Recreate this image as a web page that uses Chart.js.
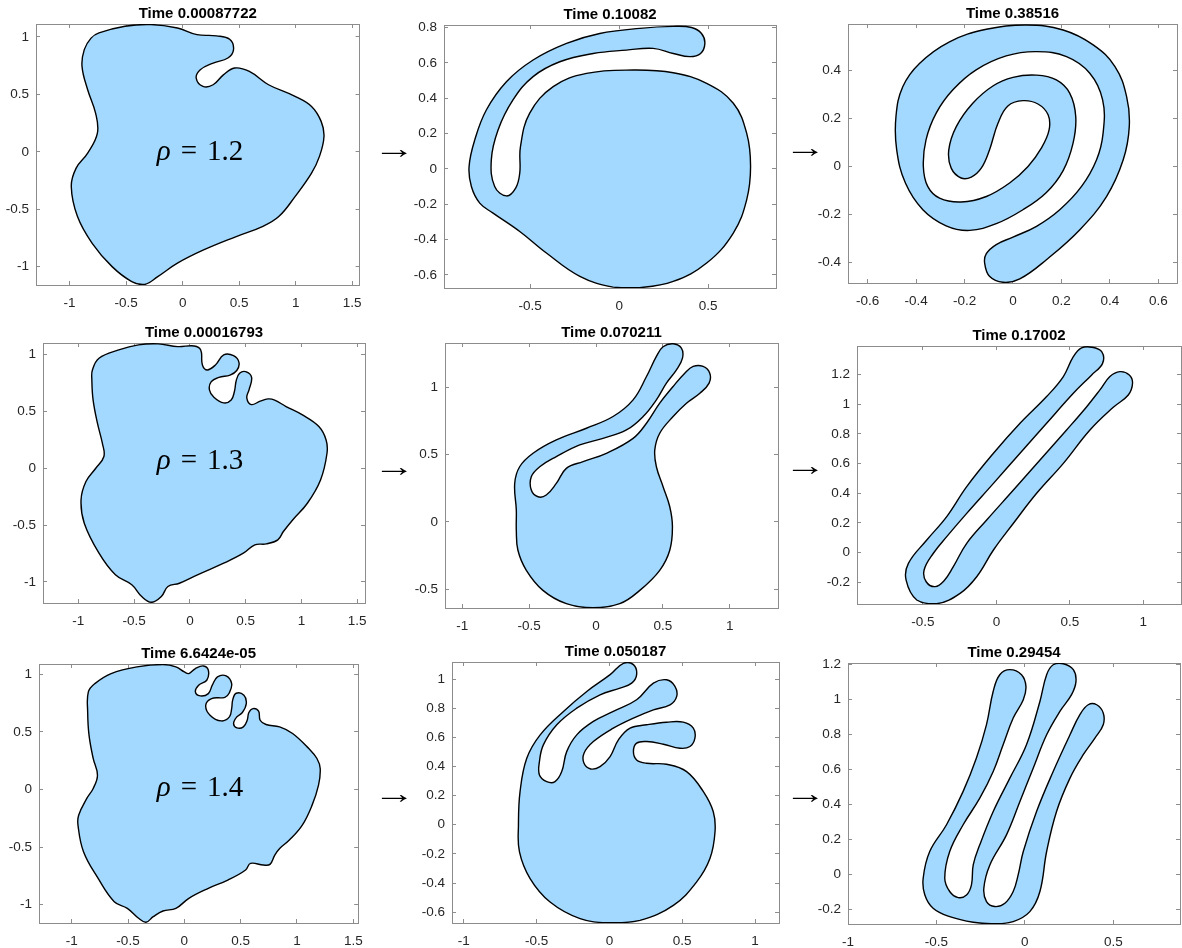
<!DOCTYPE html>
<html>
<head>
<meta charset="utf-8">
<script src="https://cdn.jsdelivr.net/npm/chart.js@4.4.1/dist/chart.umd.min.js"></script>
<style>
  html, body { margin: 0; padding: 0; background: #fff; overflow: hidden; }
  body { width: 1182px; height: 948px; position: relative; }
  canvas { position: absolute; z-index: 1; }
  .note { position: absolute; z-index: 2; color: #000; line-height: 1; white-space: nowrap;
          font-family: 'Liberation Serif', 'DejaVu Serif', serif; transform: translate(-50%, -50%); }
  .rho { font-size: 29px; }
  .rho .eq { margin: 0 10px; }
  .arrow { font-size: 28px; transform: translate(-50%, -50%) scaleX(1.5); }
</style>
</head>
<body>
<script>
// outlines of the blue region, [x, y] in axis units, traced round the curve
const outlineRho12 = [[-0.74,1.035],[-0.51,1.093],[-0.28,1.108],[-0.046,1.078],[0.127,1.02],[0.30,1.01],[0.416,0.98],[0.45,0.89],[0.40,0.817],[0.27,0.773],[0.156,0.715],[0.12,0.642],[0.18,0.57],[0.27,0.584],[0.36,0.67],[0.46,0.73],[0.59,0.70],[0.76,0.584],[0.994,0.483],[1.14,0.395],[1.225,0.265],[1.25,0.134],[1.21,-0.04],[1.14,-0.186],[0.994,-0.39],[0.85,-0.564],[0.705,-0.651],[0.474,-0.738],[0.185,-0.855],[-0.046,-0.97],[-0.22,-1.087],[-0.335,-1.155],[-0.45,-1.13],[-0.624,-1.0],[-0.80,-0.797],[-0.93,-0.564],[-0.985,-0.302],[-0.942,-0.142],[-0.84,-0.012],[-0.754,0.163],[-0.77,0.337],[-0.84,0.54],[-0.89,0.744],[-0.87,0.89],[-0.81,0.99]];
const armRho12 = [[-0.844,0.013],[-0.812,0.164],[-0.747,0.333],[-0.634,0.493],[-0.484,0.616],[-0.296,0.71],[-0.109,0.766],[0.116,0.795],[0.304,0.806],[0.407,0.80],[0.463,0.766],[0.482,0.71],[0.458,0.653],[0.398,0.635],[0.304,0.653],[0.191,0.682],[0.041,0.672],[-0.146,0.653],[-0.334,0.606],[-0.484,0.522],[-0.597,0.39],[-0.681,0.22],[-0.719,0.051],[-0.70,-0.10],[-0.634,-0.153],[-0.582,-0.109],[-0.559,-0.024],[-0.555,0.126],[-0.503,0.315],[-0.371,0.465],[-0.184,0.54],[0.079,0.559],[0.304,0.544],[0.492,0.484],[0.642,0.371],[0.717,0.202],[0.739,0.013],[0.717,-0.175],[0.642,-0.363],[0.492,-0.533],[0.304,-0.637],[0.116,-0.672],[-0.034,-0.669],[-0.221,-0.608],[-0.409,-0.476],[-0.559,-0.354],[-0.709,-0.25],[-0.784,-0.194],[-0.831,-0.10]];
const spiralRho12 = [[-0.117,-0.402],[-0.097,-0.457],[-0.041,-0.482],[0.028,-0.468],[0.138,-0.388],[0.276,-0.263],[0.386,-0.125],[0.455,0.028],[0.48,0.166],[0.469,0.291],[0.421,0.416],[0.331,0.506],[0.207,0.568],[0.055,0.589],[-0.11,0.571],[-0.262,0.519],[-0.386,0.429],[-0.455,0.332],[-0.483,0.208],[-0.48,0.069],[-0.444,-0.069],[-0.372,-0.18],[-0.276,-0.247],[-0.179,-0.266],[-0.069,-0.238],[0.041,-0.18],[0.138,-0.108],[0.207,-0.017],[0.248,0.097],[0.259,0.208],[0.234,0.305],[0.179,0.36],[0.097,0.38],[0.0,0.371],[-0.083,0.335],[-0.166,0.263],[-0.234,0.166],[-0.265,0.069],[-0.255,-0.007],[-0.214,-0.048],[-0.172,-0.044],[-0.131,-0.007],[-0.097,0.069],[-0.062,0.18],[-0.021,0.252],[0.041,0.274],[0.103,0.26],[0.145,0.215],[0.149,0.152],[0.117,0.076],[0.062,0.0],[-0.014,-0.069],[-0.11,-0.125],[-0.214,-0.148],[-0.303,-0.132],[-0.352,-0.083],[-0.37,0.0],[-0.359,0.111],[-0.317,0.222],[-0.248,0.319],[-0.152,0.402],[-0.028,0.46],[0.097,0.478],[0.221,0.457],[0.317,0.388],[0.37,0.277],[0.372,0.139],[0.345,0.028],[0.283,-0.083],[0.193,-0.18],[0.097,-0.249],[0.0,-0.294],[-0.069,-0.325],[-0.11,-0.363]];

const outlineRho13 = [[-0.874,0.865],[-0.815,0.968],[-0.638,1.041],[-0.462,1.085],[-0.285,1.094],[-0.109,1.07],[0.038,1.076],[0.097,1.041],[0.112,0.909],[0.156,0.865],[0.229,0.909],[0.303,0.997],[0.391,0.99],[0.44,0.93],[0.42,0.86],[0.36,0.82],[0.26,0.80],[0.19,0.76],[0.175,0.69],[0.215,0.625],[0.303,0.575],[0.37,0.60],[0.40,0.68],[0.415,0.77],[0.445,0.835],[0.50,0.85],[0.553,0.80],[0.53,0.69],[0.51,0.62],[0.55,0.56],[0.63,0.59],[0.70,0.61],[0.76,0.60],[0.862,0.543],[1.009,0.469],[1.156,0.367],[1.221,0.249],[1.229,0.132],[1.171,-0.103],[1.053,-0.308],[0.921,-0.455],[0.838,-0.557],[0.788,-0.63],[0.685,-0.666],[0.582,-0.674],[0.479,-0.748],[0.303,-0.836],[0.068,-0.938],[-0.094,-1.012],[-0.197,-1.041],[-0.256,-1.129],[-0.344,-1.18],[-0.432,-1.129],[-0.521,-1.026],[-0.668,-0.938],[-0.815,-0.748],[-0.947,-0.484],[-0.976,-0.279],[-0.932,-0.117],[-0.844,0.0],[-0.771,0.103],[-0.785,0.22],[-0.829,0.396],[-0.868,0.601],[-0.879,0.777]];
const forkRho13 = [[-0.596,0.087],[-0.608,0.285],[-0.571,0.409],[-0.471,0.509],[-0.297,0.608],[-0.072,0.695],[0.127,0.782],[0.277,0.906],[0.377,1.079],[0.451,1.228],[0.501,1.3],[0.576,1.322],[0.638,1.29],[0.646,1.216],[0.601,1.129],[0.526,1.03],[0.451,0.906],[0.352,0.782],[0.227,0.682],[0.052,0.62],[-0.122,0.571],[-0.297,0.484],[-0.421,0.409],[-0.484,0.335],[-0.484,0.236],[-0.434,0.186],[-0.372,0.199],[-0.297,0.285],[-0.222,0.397],[-0.097,0.447],[0.077,0.509],[0.277,0.62],[0.377,0.732],[0.476,0.881],[0.576,1.005],[0.663,1.104],[0.726,1.154],[0.80,1.154],[0.85,1.104],[0.845,1.03],[0.776,0.955],[0.676,0.881],[0.576,0.782],[0.476,0.658],[0.439,0.534],[0.451,0.409],[0.501,0.261],[0.551,0.112],[0.571,-0.037],[0.551,-0.211],[0.476,-0.36],[0.327,-0.509],[0.177,-0.608],[-0.022,-0.638],[-0.222,-0.608],[-0.397,-0.509],[-0.521,-0.36],[-0.584,-0.211],[-0.596,-0.062]];
const loopRho13 = [[0.649,1.385],[0.717,1.355],[0.723,1.276],[0.649,1.198],[0.524,1.074],[0.342,0.872],[0.161,0.67],[-0.02,0.467],[-0.202,0.265],[-0.338,0.108],[-0.429,-0.004],[-0.492,-0.117],[-0.478,-0.196],[-0.417,-0.229],[-0.356,-0.189],[-0.293,-0.094],[-0.202,0.063],[-0.066,0.22],[0.116,0.422],[0.297,0.625],[0.478,0.827],[0.615,0.984],[0.705,1.097],[0.773,1.187],[0.841,1.22],[0.905,1.198],[0.927,1.142],[0.898,1.063],[0.796,0.98],[0.637,0.827],[0.456,0.602],[0.274,0.4],[0.116,0.198],[-0.02,0.018],[-0.134,-0.162],[-0.247,-0.274],[-0.406,-0.344],[-0.542,-0.319],[-0.615,-0.184],[-0.599,-0.072],[-0.474,0.085],[-0.338,0.243],[-0.202,0.445],[-0.02,0.67],[0.161,0.872],[0.342,1.052],[0.456,1.187],[0.524,1.321],[0.58,1.38]];

const outlineRho14 = [[-0.852,0.847],[-0.794,0.919],[-0.65,1.006],[-0.42,1.064],[-0.19,1.084],[-0.075,1.064],[0.0,1.02],[0.04,1.006],[0.098,1.049],[0.17,1.072],[0.213,1.035],[0.199,0.948],[0.127,0.905],[0.098,0.847],[0.141,0.812],[0.213,0.832],[0.248,0.905],[0.294,0.977],[0.371,0.986],[0.42,0.919],[0.40,0.84],[0.36,0.80],[0.242,0.789],[0.19,0.731],[0.228,0.645],[0.328,0.595],[0.40,0.63],[0.42,0.702],[0.43,0.78],[0.46,0.835],[0.529,0.818],[0.55,0.746],[0.515,0.668],[0.466,0.63],[0.437,0.572],[0.466,0.535],[0.524,0.543],[0.558,0.601],[0.573,0.668],[0.61,0.702],[0.659,0.679],[0.673,0.601],[0.725,0.564],[0.846,0.543],[0.961,0.486],[1.105,0.355],[1.177,0.269],[1.206,0.182],[1.191,0.038],[1.134,-0.136],[1.047,-0.309],[0.932,-0.439],[0.846,-0.512],[0.803,-0.569],[0.76,-0.65],[0.702,-0.656],[0.587,-0.642],[0.544,-0.699],[0.386,-0.786],[0.213,-0.858],[0.04,-0.945],[-0.075,-1.032],[-0.19,-1.055],[-0.276,-1.104],[-0.34,-1.152],[-0.406,-1.118],[-0.506,-1.032],[-0.622,-0.974],[-0.765,-0.772],[-0.895,-0.54],[-0.944,-0.309],[-0.938,-0.223],[-0.866,-0.078],[-0.809,0.009],[-0.771,0.124],[-0.809,0.269],[-0.846,0.471],[-0.858,0.673]];
const armsRho14 = [[-0.624,-0.002],[-0.613,0.227],[-0.567,0.456],[-0.475,0.617],[-0.315,0.778],[-0.155,0.915],[0.005,1.03],[0.096,1.108],[0.165,1.099],[0.187,1.03],[0.153,0.972],[0.073,0.938],[-0.064,0.892],[-0.224,0.80],[-0.361,0.686],[-0.453,0.548],[-0.48,0.433],[-0.48,0.342],[-0.43,0.296],[-0.373,0.296],[-0.327,0.365],[-0.293,0.502],[-0.224,0.617],[-0.11,0.709],[0.027,0.778],[0.187,0.858],[0.302,0.972],[0.393,0.995],[0.45,0.95],[0.462,0.881],[0.416,0.823],[0.302,0.789],[0.165,0.732],[0.027,0.663],[-0.11,0.571],[-0.174,0.491],[-0.174,0.422],[-0.128,0.383],[-0.064,0.399],[0.005,0.468],[0.062,0.583],[0.142,0.663],[0.256,0.686],[0.393,0.704],[0.507,0.704],[0.576,0.663],[0.587,0.594],[0.553,0.537],[0.485,0.525],[0.37,0.553],[0.256,0.571],[0.187,0.56],[0.165,0.502],[0.187,0.445],[0.256,0.422],[0.393,0.415],[0.53,0.365],[0.645,0.227],[0.713,0.089],[0.725,-0.048],[0.69,-0.232],[0.599,-0.392],[0.439,-0.553],[0.21,-0.656],[0.005,-0.672],[-0.201,-0.644],[-0.407,-0.53],[-0.544,-0.369],[-0.617,-0.186]];
const fingersRho14 = [[-0.575,-0.022],[-0.538,0.131],[-0.443,0.284],[-0.349,0.475],[-0.274,0.666],[-0.217,0.857],[-0.179,1.048],[-0.142,1.143],[-0.085,1.172],[-0.019,1.143],[0.006,1.076],[-0.009,1.0],[-0.066,0.895],[-0.123,0.742],[-0.179,0.589],[-0.255,0.436],[-0.349,0.284],[-0.425,0.131],[-0.453,-0.022],[-0.425,-0.098],[-0.377,-0.133],[-0.33,-0.118],[-0.302,-0.06],[-0.292,0.054],[-0.255,0.169],[-0.179,0.36],[-0.085,0.551],[0.009,0.742],[0.085,0.99],[0.123,1.143],[0.16,1.2],[0.217,1.206],[0.274,1.172],[0.289,1.105],[0.264,1.029],[0.198,0.933],[0.123,0.799],[0.047,0.608],[-0.028,0.417],[-0.104,0.226],[-0.198,0.054],[-0.232,-0.079],[-0.217,-0.156],[-0.17,-0.184],[-0.113,-0.165],[-0.066,-0.098],[-0.038,-0.003],[-0.009,0.131],[0.066,0.36],[0.16,0.589],[0.255,0.799],[0.311,0.914],[0.358,0.971],[0.406,0.971],[0.443,0.924],[0.443,0.857],[0.396,0.78],[0.33,0.685],[0.255,0.551],[0.179,0.36],[0.123,0.131],[0.085,-0.098],[0.028,-0.213],[-0.066,-0.27],[-0.179,-0.282],[-0.292,-0.274],[-0.425,-0.242],[-0.519,-0.194],[-0.566,-0.117]];

const outlines = [outlineRho12, armRho12, spiralRho12, outlineRho13, forkRho13, loopRho13, outlineRho14, armsRho14, fingersRho14];
const titles = ['Time 0.00087722', 'Time 0.10082', 'Time 0.38516', 'Time 0.00016793', 'Time 0.070211', 'Time 0.17002', 'Time 6.6424e-05', 'Time 0.050187', 'Time 0.29454'];

const xLimits = [[-1.297, 1.565], [-0.985, 0.882], [-0.681, 0.677], [-1.317, 1.57], [-1.129, 1.36], [-0.949, 1.257], [-1.29, 1.543], [-1.08, 1.164], [-1.0, 0.877]];
const yLimits = [[-1.16, 1.113], [-0.674, 0.814], [-0.485, 0.593], [-1.186, 1.102], [-0.64, 1.328], [-0.346, 1.393], [-1.159, 1.089], [-0.674, 1.117], [-0.284, 1.21]];

const ticksWideX = [-1, -0.5, 0, 0.5, 1, 1.5];
const ticksWideY = [-1, -0.5, 0, 0.5, 1];
const xTicks = [ticksWideX, [-0.5, 0, 0.5], [-0.6, -0.4, -0.2, 0, 0.2, 0.4, 0.6], ticksWideX, [-1, -0.5, 0, 0.5, 1], [-0.5, 0, 0.5, 1], ticksWideX, [-1, -0.5, 0, 0.5, 1], [-1, -0.5, 0, 0.5]];
const yTicks = [ticksWideY, [-0.6, -0.4, -0.2, 0, 0.2, 0.4, 0.6, 0.8], [-0.4, -0.2, 0, 0.2, 0.4], ticksWideY, [-0.5, 0, 0.5, 1], [-0.2, 0, 0.2, 0.4, 0.6, 0.8, 1, 1.2], ticksWideY, [-0.6, -0.4, -0.2, 0, 0.2, 0.4, 0.6, 0.8, 1], [-0.2, 0, 0.2, 0.4, 0.6, 0.8, 1, 1.2]];

const rhoValues = ['1.2', '1.3', '1.4'];

// page layout: axes box [left, top, right, bottom] of each panel, in px
const axesBoxes = [
  [36, 24, 366, 285], [444, 25, 776, 288], [848, 24, 1177, 283],
  [43, 343, 371, 603], [445, 343, 778, 608], [857, 346, 1181, 604],
  [39, 664, 367, 923], [452, 662, 779, 923], [848, 663, 1180, 924]
];
const rhoCenters = [[200, 150], [200, 459], [200, 786]];
const arrowCenters = [[394, 149], [805, 148], [394, 467], [805, 466], [394, 794], [805, 794]];

const fillBlue = '#a3d9ff';
const boxGray = '#8c8c8c';
const labelGray = '#262626';
const tickFont = { family: "'Liberation Sans', Arial, sans-serif", size: 13.5 };
const Y_AXIS_W = 44, TITLE_H = 22, PAD_R = 10, X_AXIS_H = 30;

// join the last point back to the first with a smooth curve
const closeOutline = {
  id: 'closeOutline',
  afterDatasetUpdate(chart, args) {
    args.meta.dataset._loop = true;
    args.meta.dataset._fullLoop = true;
  }
};

function setTicks(values) {
  return scale => { scale.ticks = values.map(v => ({ value: v })); };
}

function makeAxis(position, lim, ticks, labelled) {
  const horizontal = position === 'bottom' || position === 'top';
  return {
    type: 'linear',
    axis: horizontal ? 'x' : 'y',
    position: position,
    min: lim[0],
    max: lim[1],
    afterBuildTicks: setTicks(ticks),
    afterFit: scale => {
      if (horizontal) scale.height = labelled ? X_AXIS_H : 0;
      else scale.width = labelled ? Y_AXIS_W : 0;
    },
    grid: { display: true, drawOnChartArea: false, drawTicks: true, tickLength: -4, color: boxGray, lineWidth: 1 },
    border: { display: true, color: boxGray, width: 1 },
    ticks: {
      display: labelled,
      autoSkip: false,
      maxRotation: 0,
      padding: horizontal ? 14 : 11,
      color: labelGray,
      font: tickFont,
      callback: v => String(v)
    }
  };
}

outlines.forEach((outline, i) => {
  const [l, t, r, b] = axesBoxes[i];
  const canvas = document.createElement('canvas');
  canvas.width = r - l + Y_AXIS_W + PAD_R;
  canvas.height = b - t + TITLE_H + X_AXIS_H;
  canvas.style.left = (l - Y_AXIS_W) + 'px';
  canvas.style.top = (t - TITLE_H) + 'px';
  document.body.appendChild(canvas);

  new Chart(canvas.getContext('2d'), {
    type: 'scatter',
    data: {
      datasets: [{
        data: outline.map(p => ({ x: p[0], y: p[1] })),
        xAxisID: 'x',
        yAxisID: 'y',
        showLine: true,
        spanGaps: true,
        fill: 'shape',
        backgroundColor: fillBlue,
        borderColor: '#000',
        borderWidth: 1.4,
        pointRadius: 0,
        pointHoverRadius: 0,
        tension: 0.4
      }]
    },
    plugins: [closeOutline],
    options: {
      responsive: false,
      animation: false,
      events: [],
      layout: { padding: { left: 0, top: 0, right: PAD_R, bottom: 0 } },
      scales: {
        x: makeAxis('bottom', xLimits[i], xTicks[i], true),
        y: makeAxis('left', yLimits[i], yTicks[i], true),
        x2: makeAxis('top', xLimits[i], xTicks[i], false),
        y2: makeAxis('right', yLimits[i], yTicks[i], false)
      },
      plugins: {
        legend: { display: false },
        tooltip: { enabled: false },
        title: {
          display: true,
          text: titles[i],
          fullSize: false,
          color: '#000',
          font: { family: "'Liberation Sans', Arial, sans-serif", size: 15, weight: 'bold', lineHeight: '17px' },
          padding: { top: 3, bottom: 2 }
        }
      }
    }
  });
});

rhoValues.forEach((v, i) => {
  const div = document.createElement('div');
  div.className = 'note rho';
  div.innerHTML = '<i>\u03c1</i><span class="eq">=</span>' + v;
  div.style.left = rhoCenters[i][0] + 'px';
  div.style.top = rhoCenters[i][1] + 'px';
  document.body.appendChild(div);
});

arrowCenters.forEach(c => {
  const div = document.createElement('div');
  div.className = 'note arrow';
  div.textContent = '\u2192';
  div.style.left = c[0] + 'px';
  div.style.top = c[1] + 'px';
  document.body.appendChild(div);
});
</script>
</body>
</html>
